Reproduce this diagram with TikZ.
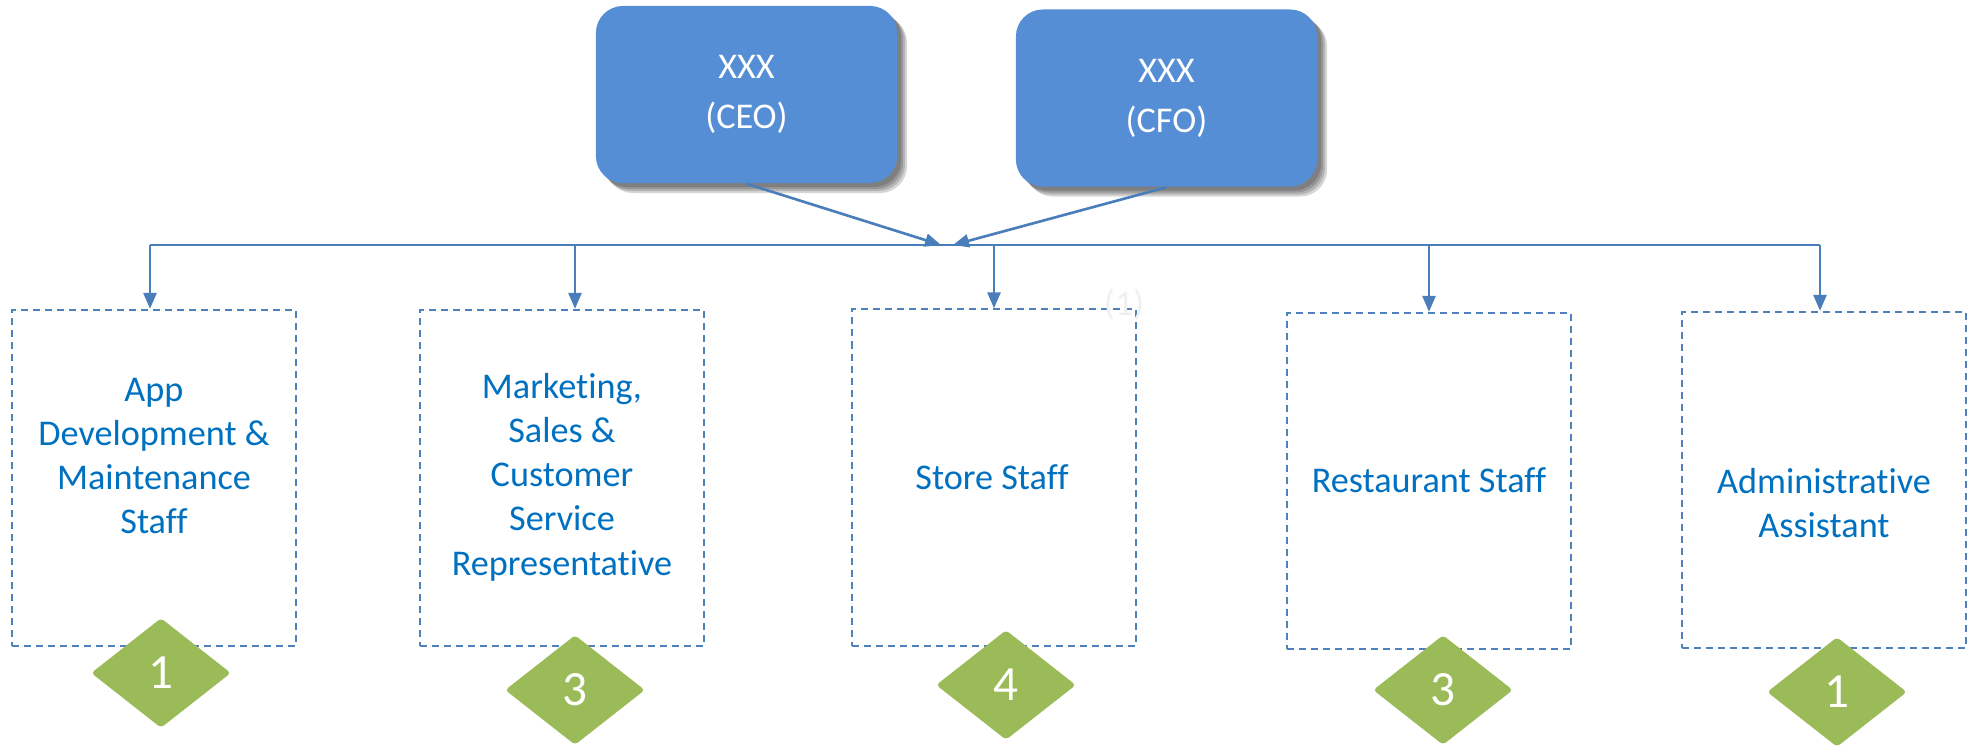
\documentclass[tikz,border=0pt]{standalone}
\usepackage{fontspec}
\setmainfont{Carlito}[Ligatures=NoCommon]
\usetikzlibrary{arrows.meta,shapes.geometric,shadows}

\definecolor{leadblue}{RGB}{85,142,213}
\definecolor{linkblue}{RGB}{74,126,187}
\definecolor{dashblue}{RGB}{79,129,189}
\definecolor{nameblue}{RGB}{0,112,192}
\definecolor{countgreen}{RGB}{155,187,89}

\tikzset{
  softshadow/.style={general shadow={shadow xshift=#1,shadow yshift=-#1,fill=black,opacity=0.16}},
  lead/.style={rounded corners=0.27cm,fill=leadblue,text=white,align=center,
    minimum width=3.01cm,minimum height=1.77cm,
    font=\fontsize{10.3}{14.2}\selectfont,
    softshadow=0.1cm,softshadow=0.08cm,softshadow=0.06cm,softshadow=0.04cm},
  staff/.style={draw=dashblue,line width=0.6pt,dash pattern=on 0.07cm off 0.05cm,
    minimum width=2.84cm,minimum height=3.36cm},
  staffname/.style={text=nameblue,align=center,font=\fontsize{10.3}{12.6}\selectfont},
  headcount/.style={diamond,fill=countgreen,text=white,inner sep=0pt,rounded corners=1pt,
    minimum width=1.4cm,minimum height=1.1cm,font=\fontsize{14}{14}\selectfont},
  bus/.style={draw=linkblue,line width=0.6pt},
  link/.style={draw=linkblue,line width=0.75pt,-{Triangle[length=0.16cm,width=0.13cm]}}
}

\begin{document}
\begin{tikzpicture}[x=0.01cm,y=-0.01cm]
\useasboundingbox (0,0) rectangle (1974,748);

\node[lead] (ceo) at (746.5,94.5) {XXX\\(CEO)};
\node[lead] (cfo) at (1166.5,98) {XXX\\(CFO)};

\node[staff] (app) at (154,478) {};
\node[staff] (mkt) at (562,478) {};
\node[staff] (store) at (994,477.5) {};
\node[staff] (rest) at (1429,481) {};
\node[staff] (admin) at (1824,480) {};

\node[staffname] (appname) at (154,456) {App\\Development \&\\Maintenance\\Staff};
\node[staffname] (mktname) at (562,477) {Marketing,\\Sales \&\\Customer\\Service\\Representative};
\node[staffname] (storename) at (992,477) {Store Staff};
\node[staffname] (restname) at (1429,480) {Restaurant Staff};
\node[staffname] (adminname) at (1824,503) {Administrative\\Assistant};
\node[text=black!6,font=\fontsize{10.3}{12}\selectfont] (storenote) at (1124,305) {(1)};

\node[headcount] (appcount) at (161,673) {1};
\node[headcount] (mktcount) at (575,690) {3};
\node[headcount] (storecount) at (1006,685) {4};
\node[headcount] (restcount) at (1443,690) {3};
\node[headcount] (admincount) at (1837,692) {1};

\coordinate (busL) at (150,245);
\coordinate (busR) at (1820,245);
\coordinate (meetL) at (941,245);
\coordinate (meetR) at (953,245);

\draw[bus] (busL) -- (busR);
\draw[link] (ceo.south) -- (meetL);
\draw[link] (cfo.south) -- (meetR);

\draw[link] (busL) -- (busL |- app.north);
\draw[link] ([xshift=0.13cm]mkt.north |- busL) -- ([xshift=0.13cm]mkt.north);
\draw[link] (store.north |- busL) -- (store.north);
\draw[link] (rest.north |- busL) -- (rest.north);
\draw[link] (busR) -- (busR |- admin.north);
\end{tikzpicture}
\end{document}
